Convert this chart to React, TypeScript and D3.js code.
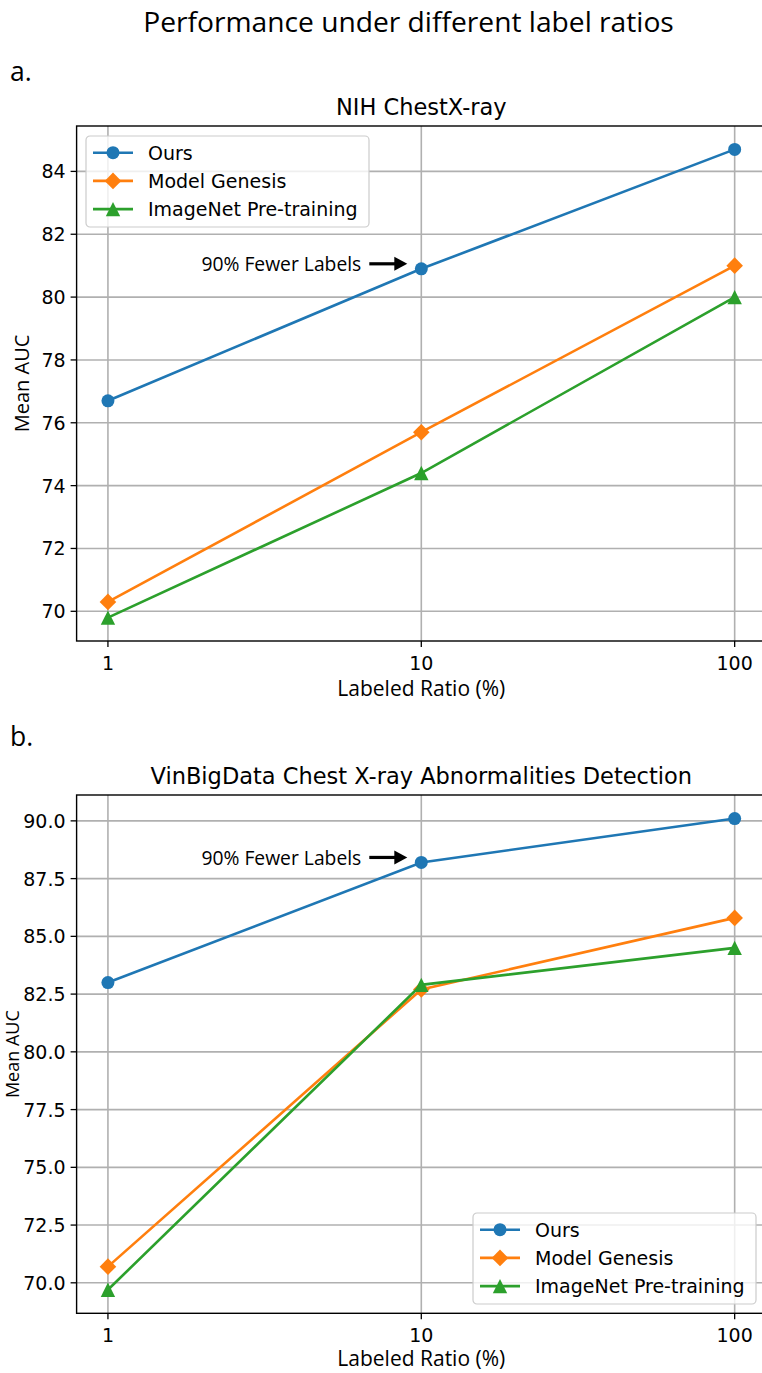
import React from "react";
import * as d3 from "d3";

const ratios = [1, 10, 100];
const xTickLabels = ["1", "10", "100"];
const seriesNames = ["Ours", "Model Genesis", "ImageNet Pre-training"];
const seriesColors = ["#1f77b4", "#ff7f0e", "#2ca02c"];
const seriesMarkers = ["circle", "diamond", "triangle"];

const nihOurs = [76.7, 80.9, 84.7];
const nihGenesis = [70.3, 75.7, 81.0];
const nihImageNet = [69.8, 74.4, 80.0];
const nihYTicks = [70, 72, 74, 76, 78, 80, 82, 84];

const vinOurs = [83.0, 88.2, 90.1];
const vinGenesis = [70.7, 82.7, 85.8];
const vinImageNet = [69.7, 82.9, 84.5];
const vinYTicks = [70, 72.5, 75, 77.5, 80, 82.5, 85, 87.5, 90];

const TICK_FONT = "'DejaVu Sans', sans-serif";
const ALT_FONT = "'Open Sans', Lato, sans-serif";

function Marker({ kind, x, y, color }: { kind: string; x: number; y: number; color: string }) {
  if (kind === "circle") return <circle cx={x} cy={y} r={6.5} fill={color} />;
  if (kind === "diamond") {
    const s = 8.3;
    return <path d={`M${x},${y - s}L${x + s},${y}L${x},${y + s}L${x - s},${y}Z`} fill={color} />;
  }
  const s = 7.2;
  return <path d={`M${x},${y - s}L${x + s},${y + s}L${x - s},${y + s}Z`} fill={color} />;
}

function Panel(props: {
  top: number;
  bottom: number;
  yTicks: number[];
  fmt: (v: number) => string;
  title: string;
  letter: string;
  letterY: number;
  series: number[][];
  legendX: number;
  legendY: number;
  yLabelX: number;
  yLabelSize: number;
  xLabelOffset: number;
}) {
  const { top, bottom, yTicks, fmt, title, letter, letterY, series, legendX, legendY, yLabelX, yLabelSize, xLabelOffset } = props;
  const x = d3.scaleLog().domain([Math.pow(10, -0.1), Math.pow(10, 2.1)]).range([76.6, 766]);
  const all = series.flat();
  const mn = d3.min(all) as number;
  const mx = d3.max(all) as number;
  const pad = (mx - mn) * 0.05;
  const y = d3.scaleLinear().domain([mn - pad, mx + pad]).range([bottom, top]);
  const line = d3
    .line<number>()
    .x((_, i) => x(ratios[i]))
    .y((d) => y(d));
  const left = x.range()[0];
  const right = x.range()[1];
  const cx = (left + right) / 2;
  const annX = x(ratios[1]);
  const annY = y(series[0][1]) - 5;
  return (
    <g>
      <text x={10} y={letterY} fontFamily={ALT_FONT} fontSize={26.5} dominantBaseline="central">
        {letter}
      </text>
      <text x={cx} y={top - 19} fontFamily={TICK_FONT} fontSize={22.5} textAnchor="middle" dominantBaseline="central">
        {title}
      </text>
      {/* grid */}
      {yTicks.map((t) => (
        <line key={"gy" + t} x1={left} x2={right} y1={y(t)} y2={y(t)} stroke="#b0b0b0" strokeWidth={1.6} />
      ))}
      {ratios.map((t) => (
        <line key={"gx" + t} x1={x(t)} x2={x(t)} y1={top} y2={bottom} stroke="#b0b0b0" strokeWidth={1.6} />
      ))}
      {/* series */}
      {series.map((s, si) => (
        <g key={"s" + si}>
          <path d={line(s) as string} fill="none" stroke={seriesColors[si]} strokeWidth={2.6} />
          {s.map((v, i) => (
            <Marker key={i} kind={seriesMarkers[si]} x={x(ratios[i])} y={y(v)} color={seriesColors[si]} />
          ))}
        </g>
      ))}
      {/* spines */}
      <rect x={left} y={top} width={right - left} height={bottom - top} fill="none" stroke="#000" strokeWidth={1.4} />
      {/* y ticks */}
      {yTicks.map((t) => (
        <g key={"ty" + t}>
          <line x1={left - 6} x2={left} y1={y(t)} y2={y(t)} stroke="#000" strokeWidth={1.3} />
          <text x={left - 11} y={y(t)} fontFamily={TICK_FONT} fontSize={19} textAnchor="end" dominantBaseline="central">
            {fmt(t)}
          </text>
        </g>
      ))}
      {/* x ticks */}
      {ratios.map((t, i) => (
        <g key={"tx" + t}>
          <line x1={x(t)} x2={x(t)} y1={bottom} y2={bottom + 6} stroke="#000" strokeWidth={1.3} />
          <text x={x(t)} y={bottom + 22} fontFamily={TICK_FONT} fontSize={19} textAnchor="middle" dominantBaseline="central">
            {xTickLabels[i]}
          </text>
        </g>
      ))}
      <text x={cx} y={bottom + xLabelOffset} fontFamily={ALT_FONT} fontSize={21} textAnchor="middle" dominantBaseline="central">
        Labeled Ratio (%)
      </text>
      <text
        transform={`translate(${yLabelX},${(top + bottom) / 2}) rotate(-90)`}
        fontFamily={ALT_FONT}
        fontSize={yLabelSize}
        textAnchor="middle"
        dominantBaseline="central"
      >
        Mean AUC
      </text>
      {/* annotation */}
      <text x={annX - 60} y={annY} fontFamily={ALT_FONT} fontSize={19.3} textAnchor="end" dominantBaseline="central">
        90% Fewer Labels
      </text>
      <line x1={annX - 52} x2={annX - 26} y1={annY} y2={annY} stroke="#000" strokeWidth={3.2} />
      <path d={`M${annX - 14},${annY}L${annX - 27},${annY - 7}L${annX - 27},${annY + 7}Z`} fill="#000" />
      {/* legend */}
      <g transform={`translate(${legendX},${legendY})`}>
        <rect x={0} y={0} width={283} height={91} rx={4} ry={4} fill="rgba(255,255,255,0.8)" stroke="#cccccc" strokeWidth={1.2} />
        {seriesNames.map((n, i) => {
          const ry = 16.7 + i * 28.2;
          return (
            <g key={n}>
              <line x1={7} x2={47} y1={ry} y2={ry} stroke={seriesColors[i]} strokeWidth={2.6} />
              <Marker kind={seriesMarkers[i]} x={27} y={ry} color={seriesColors[i]} />
              <text x={62} y={ry} fontFamily={TICK_FONT} fontSize={19} dominantBaseline="central">
                {n}
              </text>
            </g>
          );
        })}
      </g>
    </g>
  );
}

export default function App() {
  return (
    <svg
      width={762}
      height={1373}
      viewBox="0 0 762 1373"
      style={{ position: "absolute", left: 0, top: 0, display: "block", background: "#fff" }}
    >
      <rect x={0} y={0} width={762} height={1373} fill="#fff" />
      <text x={408.5} y={21} fontFamily={ALT_FONT} fontSize={28.2} textAnchor="middle" dominantBaseline="central">
        Performance under different label ratios
      </text>
      <Panel
        top={126}
        bottom={641}
        yTicks={nihYTicks}
        fmt={(v) => d3.format("d")(v)}
        title="NIH ChestX-ray"
        letter="a."
        letterY={71}
        series={[nihOurs, nihGenesis, nihImageNet]}
        legendX={86}
        legendY={136}
        yLabelX={21}
        yLabelSize={20}
        xLabelOffset={47}
      />
      <Panel
        top={795}
        bottom={1313.3}
        yTicks={vinYTicks}
        fmt={(v) => d3.format(".1f")(v)}
        title="VinBigData Chest X-ray Abnormalities Detection"
        letter="b."
        letterY={736}
        series={[vinOurs, vinGenesis, vinImageNet]}
        legendX={473}
        legendY={1213}
        yLabelX={12}
        yLabelSize={18}
        xLabelOffset={45}
      />
    </svg>
  );
}
